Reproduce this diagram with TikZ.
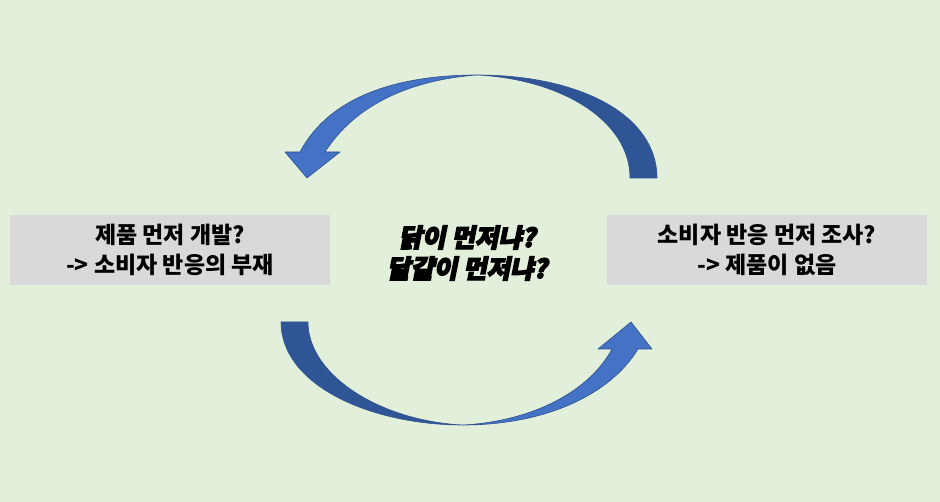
\documentclass[tikz,border=0pt]{standalone}
\usepackage{fontspec}
\newfontfamily\kr{Noto Sans CJK KR}
\newfontfamily\krheavy[FakeSlant=0.2,FakeBold=5]{Noto Sans CJK KR}
\definecolor{bgc}{HTML}{E2EFDA}
\definecolor{boxc}{HTML}{D9D9D9}
\definecolor{arrlight}{HTML}{4472C4}
\definecolor{arrdark}{HTML}{2F5597}
\definecolor{arredge}{HTML}{2F528F}
\tikzset{
  qbox/.style={fill=boxc, draw=none, minimum width=320pt, minimum height=70pt, inner sep=0pt,
    align=center, font=\kr\bfseries\fontsize{23}{30}\selectfont, text=black},
  lightpart/.style={fill=arrlight, draw=arredge, line width=0.6pt, line join=round},
  darkpart/.style={fill=arrdark, draw=arredge, line width=0.6pt, line join=round},
}
\begin{document}
\begin{tikzpicture}[x=1pt,y=-1pt]
\fill[bgc] (0,0) rectangle (940,502);
\useasboundingbox (0,0) rectangle (940,502);

\node[qbox] (left) at (170,250) {제품 먼저 개발?\\-> 소비자 반응의 부재};
\node[qbox] (right) at (767,250) {소비자 반응 먼저 조사?\\-> 제품이 없음};
\node[align=center, font=\krheavy\bfseries\fontsize{25.5}{31}\selectfont] (center) at (467,253) {닭이 먼저냐?\\달걀이 먼저냐?};

% top arrow: dark back part (right)
\path[darkpart] (657,178) .. controls (657,115) and (580,75) .. (477,75)
  .. controls (560,79) and (630,120) .. (630,178) -- cycle;
% top arrow: light front part with head (left)
\path[lightpart] (477,75) .. controls (400,75) and (330,95) .. (300,152)
  -- (285,152) -- (307,178) -- (340,152) -- (325,152)
  .. controls (355,105) and (410,80) .. (477,75) -- cycle;

% bottom arrow: dark back part (left)
\path[darkpart] (281,322) .. controls (281,385) and (370,425) .. (463,425)
  .. controls (380,421) and (308,375) .. (308,322) -- cycle;
% bottom arrow: light front part with head (right)
\path[lightpart] (463,425) .. controls (545,425) and (610,395) .. (638,349)
  -- (652,349) -- (631,322) -- (598,349) -- (612,349)
  .. controls (590,390) and (535,421) .. (463,425) -- cycle;
\end{tikzpicture}
\end{document}
